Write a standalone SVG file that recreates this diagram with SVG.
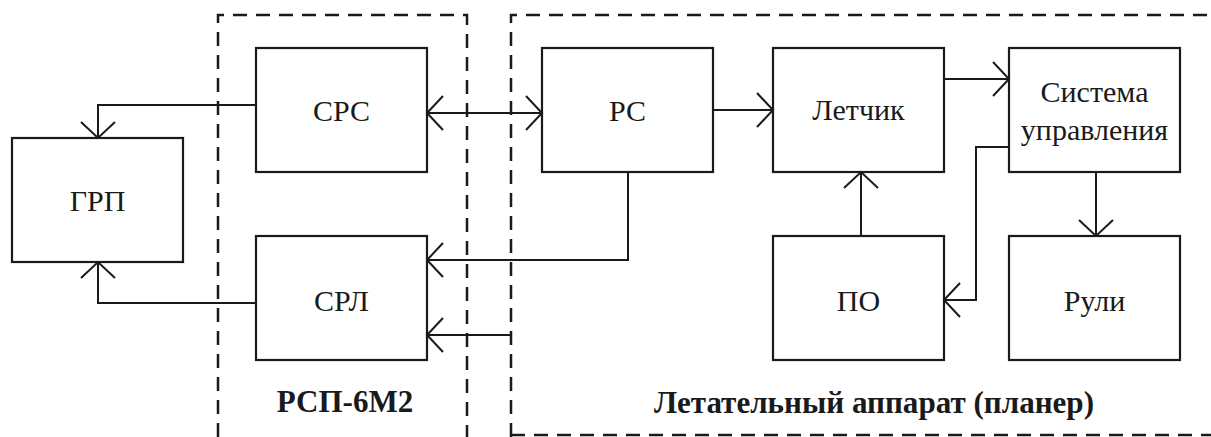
<svg xmlns="http://www.w3.org/2000/svg" width="1211" height="437" viewBox="0 0 1211 437">
<style>
.box{fill:none;stroke:#1a1a1a;stroke-width:2.2}
.dash{fill:none;stroke:#1a1a1a;stroke-width:2.5;stroke-dasharray:14 9}
.ln{fill:none;stroke:#1a1a1a;stroke-width:2}
text{fill:#1a1a1a;text-anchor:middle}
.t{font-size:30px}
.b{font-size:31px;font-weight:bold}
</style>
<defs>
<marker id="a" markerUnits="userSpaceOnUse" viewBox="0 0 22 38" markerWidth="22" markerHeight="38" refX="18" refY="19" orient="auto-start-reverse" overflow="visible">
<path d="M2,2 L18,19 L2,36" fill="none" stroke="#1a1a1a" stroke-width="2"/>
</marker>
</defs>
<rect width="1211" height="437" fill="#fff"/>
<g font-family="Liberation Serif, Tinos, Times New Roman, DejaVu Serif, serif">
<g id="frame-rsp">
<path class="dash" d="M218,437 V15 H467 V437"/>
<text class="b" x="345" y="412">РСП-6М2</text>
</g>
<g id="frame-la">
<path class="dash" d="M511,437 V15 H1211 M511,435 H1211"/>
<text class="b" x="874" y="413" textLength="440" lengthAdjust="spacingAndGlyphs">Летательный аппарат (планер)</text>
</g>
<g id="grp"><rect class="box" x="12" y="138" width="171" height="124"/><text class="t" x="97.5" y="211">ГРП</text></g>
<g id="src"><rect class="box" x="256" y="48" width="171" height="124"/><text class="t" x="341.5" y="121">СРС</text></g>
<g id="srl"><rect class="box" x="256" y="236" width="171" height="124"/><text class="t" x="341.5" y="311">СРЛ</text></g>
<g id="rs"><rect class="box" x="542" y="48" width="171" height="124"/><text class="t" x="627.5" y="121">РС</text></g>
<g id="letchik"><rect class="box" x="773" y="48" width="171" height="124"/><text class="t" x="858.5" y="120">Летчик</text></g>
<g id="sistema"><rect class="box" x="1009" y="48" width="171" height="124"/><text class="t" x="1094.5" y="102">Система</text><text class="t" x="1094.5" y="140">управления</text></g>
<g id="po"><rect class="box" x="773" y="236" width="171" height="124"/><text class="t" x="858.5" y="311">ПО</text></g>
<g id="ruli"><rect class="box" x="1009" y="236" width="171" height="124"/><text class="t" x="1094.5" y="311">Рули</text></g>
</g>
<g id="connectors">
<polyline class="ln" points="256,105 98,105 98,138" marker-end="url(#a)"/>
<polyline class="ln" points="256,303 98,303 98,262" marker-end="url(#a)"/>
<line class="ln" x1="427" y1="113" x2="542" y2="113" marker-start="url(#a)" marker-end="url(#a)"/>
<polyline class="ln" points="628,172 628,260 427,260" marker-end="url(#a)"/>
<line class="ln" x1="511" y1="335" x2="427" y2="335" marker-end="url(#a)"/>
<line class="ln" x1="713" y1="110" x2="773" y2="110" marker-end="url(#a)"/>
<line class="ln" x1="944" y1="79" x2="1009" y2="79" marker-end="url(#a)"/>
<polyline class="ln" points="1009,147 976,147 976,300 944,300" marker-end="url(#a)"/>
<line class="ln" x1="861" y1="236" x2="861" y2="172" marker-end="url(#a)"/>
<line class="ln" x1="1096" y1="172" x2="1096" y2="236" marker-end="url(#a)"/>
</g>
</svg>
